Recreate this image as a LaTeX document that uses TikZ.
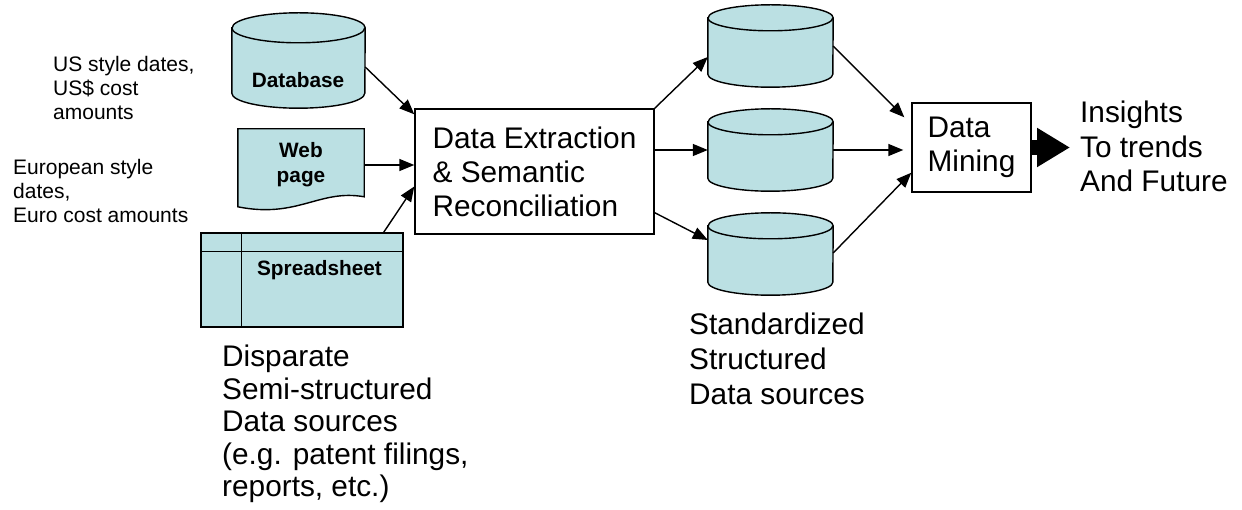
\documentclass[tikz,border=0pt]{standalone}
\usepackage{fontspec}
\setmainfont{Liberation Sans}
\usetikzlibrary{positioning, shapes.geometric, arrows.meta, calc, backgrounds}
\definecolor{storefill}{RGB}{187,224,227}

% Cylinder outline round a (rectangular) store node: node, x radius, y radius
\newcommand{\drawstore}[3]{%
    \draw [outline, fill=storefill] ($(#1.north west)+(0,#3)$) -- ($(#1.south west)+(0,-#3)$)
        arc [start angle=180, end angle=0, x radius=#2, y radius=#3]
        -- ($(#1.north east)+(0,#3)$)
        arc [start angle=0, end angle=-180, x radius=#2, y radius=#3] -- cycle;
    \draw [outline] ($(#1.north west)+(0,#3)$)
        arc [start angle=180, end angle=0, x radius=#2, y radius=#3];
}

\begin{document}
\begin{tikzpicture}[
    x=1pt, y=-1pt,
    >={Triangle[length=15pt, width=12pt]}, % Solid arrow heads
    % Styles
    outline/.style={ % Common border line
        line width=1.4pt
    },
    store/.style={ % Cylinder data stores (outline drawn by \drawstore)
        rectangle,
        inner sep=0pt
    },
    sheet/.style={ % Spreadsheet source
        rectangle,
        draw,
        outline,
        fill=storefill,
        minimum width=202pt,
        minimum height=94pt
    },
    process/.style={ % Processing steps
        rectangle,
        draw,
        outline,
        align=left,
        font=\fontsize{29.8}{34}\selectfont
    },
    tag/.style={ % Bold labels on sources
        align=center,
        inner sep=0pt,
        font=\fontsize{20.8}{25}\selectfont\bfseries
    },
    note/.style={ % Small side notes
        align=left,
        inner sep=0pt,
        anchor=north west,
        font=\fontsize{21}{24}\selectfont
    },
    caption/.style={ % Large captions
        align=left,
        inner sep=0pt,
        anchor=north west,
        font=\fontsize{29.8}{33}\selectfont
    },
    arrow/.style={
        ->,
        outline
    },
    bigarrow/.style={ % Final thick arrow
        -{Triangle[length=33pt, width=37pt]},
        line width=15pt
    }
]
    \useasboundingbox (0,0) rectangle (1242,510);

    % Sources
    \node [store, minimum width=133pt, minimum height=95pt] (db) at (298.5,60.5) {};
    \drawstore{db}{66.5}{15}
    \node [tag] (dblbl) at (298,80) {Database};
    \node [tag, minimum width=126pt, minimum height=72pt] (web) at (301,165) {Web\\page};
    \node [sheet] (xls) at (302,280) {};
    \node [tag] (xlslbl) at (319.5,270) {Spreadsheet};
    \draw [outline] ($(xls.north west)+(0,19)$) -- ($(xls.north east)+(0,19)$);
    \draw [outline] ($(xls.north west)+(41,0)$) -- ($(xls.south west)+(41,0)$);

    % Web page outline
    \begin{scope}[on background layer]
        \draw [outline, fill=storefill] (web.north west) -- (web.north east)
            -- ($(web.north east)+(0,68)$)
            .. controls ($(web.north east)+(-45,60)$) and ($(web.north west)+(60,90)$) ..
            ($(web.north west)+(0,78)$) -- cycle;
    \end{scope}

    % Side notes
    \node [note] (usnote) at (53,56.5) {US style dates,\\US\$ cost\\amounts};
    \node [note] (eunote) at (13,159.5) {European style\\dates,\\Euro cost amounts};
    \node [caption, font=\fontsize{29.8}{32.5}\selectfont] (srccap) at (222,345) {Disparate\\Semi-structured\\Data sources\\(e.g. patent filings,\\reports, etc.)};

    % Processing
    \node [process, minimum width=239pt, minimum height=125pt] (ext) at (534.5,171.5) {Data Extraction\\\& Semantic\\Reconciliation};

    % Standardized stores
    \node [store, minimum width=125pt, minimum height=82pt] (std1) at (770.5,46) {};
    \node [store, minimum width=125pt, minimum height=82pt] (std2) at (770.5,150) {};
    \node [store, minimum width=125pt, minimum height=82pt] (std3) at (770.5,254) {};
    \drawstore{std1}{62.5}{13}
    \drawstore{std2}{62.5}{13}
    \drawstore{std3}{62.5}{13}
    \node [caption, font=\fontsize{29.8}{35}\selectfont] (stdcap) at (689,313) {Standardized\\Structured\\Data sources};

    % Mining and result
    \node [process, minimum width=119pt, minimum height=89pt] (mine) at (971.5,147.5) {Data\\Mining};
    \node [caption, font=\fontsize{29.8}{34.5}\selectfont] (insight) at (1080,101) {Insights\\To trends\\And Future};

    % Arrows into extraction
    \draw [arrow] ($(db.east)+(0,6.5)$) -- ($(ext.north west)+(0,6)$);
    \draw [arrow] (web.east) -- (web.east -| ext.west);
    \draw [arrow] ($(xls.north east)+(-20,0)$) -- ($(ext.west)+(0,15)$);

    % Arrows to standardized stores
    \draw [arrow] (ext.north east) -- ($(std1.west)+(0,11)$);
    \draw [arrow] (std2.west -| ext.east) -- (std2.west);
    \draw [arrow] ($(ext.south east)+(0,-22)$) -- ($(std3.west)+(0,-14)$);

    % Arrows to mining
    \draw [arrow] (std1.east) -- ($(mine.north west)+(-7,15)$);
    \draw [arrow, shorten >=8pt] (std2.east) -- (std2.east -| mine.west);
    \draw [arrow] ($(std3.east)+(0,-1)$) -- ($(mine.south west)+(0,-20)$);

    % Output
    \draw [bigarrow, shorten >=10pt] (mine.east) -- (mine.east -| insight.west);
\end{tikzpicture}
\end{document}
